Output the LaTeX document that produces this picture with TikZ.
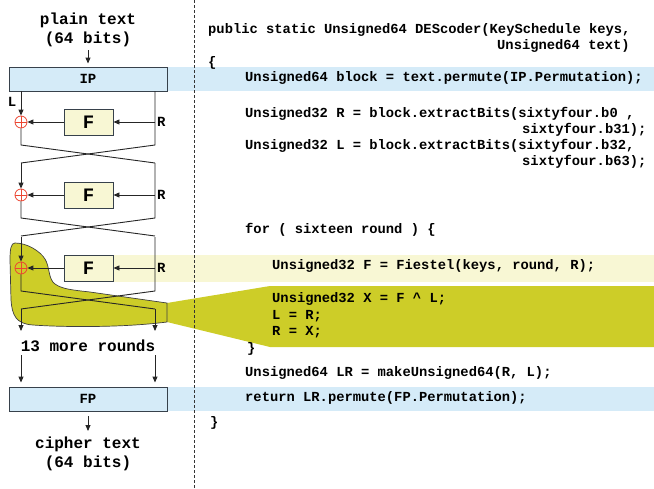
\documentclass[tikz,border=0pt]{standalone}
\usepackage{fontspec}
\setmainfont{Liberation Mono}
\usetikzlibrary{arrows.meta}
\definecolor{bandblue}{RGB}{213,235,248}
\definecolor{lyellow}{RGB}{248,247,212}
\definecolor{olivefill}{RGB}{205,205,40}
\definecolor{xred}{RGB}{235,70,50}
\definecolor{boxline}{RGB}{55,65,75}
\begin{document}
\begin{tikzpicture}[x=1pt,y=-1pt,
  arr/.style={-{Triangle[length=6pt,width=5pt]}},
  ln/.style={line width=0.9pt, draw=black!85},
  bluebox/.style={draw=boxline, fill=bandblue, line width=0.9pt, minimum width=158pt, minimum height=24pt, inner sep=0pt, font=\fontsize{14}{16}\selectfont\bfseries},
  fbox/.style={draw=boxline, fill=lyellow, line width=0.9pt, minimum width=49pt, minimum height=26pt, inner sep=0pt, font=\fontsize{19}{20}\selectfont\bfseries},
  xorn/.style={circle, draw=xred, line width=0.8pt, minimum size=12pt, inner sep=0pt,
    path picture={\draw[xred, line width=0.8pt] (path picture bounding box.north) -- (path picture bounding box.south) (path picture bounding box.west) -- (path picture bounding box.east);}},
  lbl/.style={inner sep=0pt, font=\fontsize{14}{16}\selectfont\bfseries},
  big/.style={inner sep=0pt, align=center, font=\fontsize{16}{19}\selectfont\bfseries},
  code/.style={anchor=mid west, inner sep=0pt, font=\fontsize{13.8}{16}\selectfont\bfseries},
  sep/.style={dash pattern=on 3pt off 2pt, line width=0.8pt, draw=black!80}
]
\useasboundingbox (0,0) rectangle (654,488);
% background bands
\fill[bandblue] (9,67) rectangle (654,91);
\fill[bandblue] (9,387) rectangle (654,411);
\fill[lyellow] (113,255) rectangle (654,282);
% olive highlight
\fill[olivefill] (167,303) -- (270,286) -- (654,286) -- (654,347) -- (270,347) -- (167,322) -- cycle;
\filldraw[fill=olivefill, draw=black!75, line width=0.7pt]
  (15,243) .. controls (27,243) and (40,251) .. (45,259)
  .. controls (50,267) and (48,279) .. (55,284)
  .. controls (62,289) and (72,290) .. (90,292)
  -- (167,303) -- (167,322)
  .. controls (120,328) and (60,327) .. (33,325)
  .. controls (16,324) and (12,315) .. (11,300)
  -- (10,260) .. controls (10,249) and (11,243) .. (15,243) -- cycle;

% top
\node[big] (pt) at (88,30) {plain text\\(64 bits)};
\node[bluebox] (IP) at (88,79) {IP};
\coordinate (pta) at (88,50);
\draw[ln, arr, shorten >=3pt] (pta) -- (IP.north);
\node[lbl] (L) at (12,102) {L};

% rounds
\foreach \i/\c/\t in {1/122/91, 2/195/163, 3/268/237}{
  \node[fbox] (F\i) at (88.5,\c) {F};
  \node[xorn] (xor\i) at (21,\c) {};
  \node[lbl, anchor=west] (R\i) at (157,\c) {R};
  \coordinate (lt\i) at (21,\t);
  \coordinate (rt\i) at (155,\t);
  \coordinate (lb\i) at (21,\c+23);
  \coordinate (rb\i) at (155,\c+23);
  \coordinate (lx\i) at (21,\c+41);
  \coordinate (rx\i) at (155,\c+41);
  \coordinate (rm\i) at (155,\c);
  \draw[ln, arr] (lt\i) -- (xor\i);
  \draw[ln] (xor\i) -- (lb\i) -- (rx\i);
  \draw[ln] (rt\i) -- (rb\i) -- (lx\i);
  \draw[ln, arr] (rm\i) -- (F\i);
  \draw[ln, arr] (F\i) -- (xor\i);
}
\coordinate (lo) at (21,331);
\coordinate (ro) at (155,331);
\draw[ln, arr] (lx3) -- (lo);
\draw[ln, arr] (rx3) -- (ro);
\node[big] (more) at (88,346) {13 more rounds};

% bottom
\node[bluebox] (FP) at (88,399) {FP};
\coordinate (lm) at (21,355);
\coordinate (rm) at (155,355);
\draw[ln, arr, shorten >=4pt] (lm) -- (lm |- FP.north);
\draw[ln, arr, shorten >=4pt] (rm) -- (rm |- FP.north);
\node[big] (ct) at (88,453.5) {cipher text\\(64 bits)};
\coordinate (cta) at (88,431);
\draw[ln, arr, shorten <=5pt] (FP.south) -- (cta);

% separator
\coordinate (st) at (194,0);
\coordinate (sb) at (194,488);
\draw[sep] (st) -- (sb);

% code
\node[code] (c1) at (208,31) {public static Unsigned64 DEScoder(KeySchedule keys,};
\node[code] (c2) at (497,47) {Unsigned64 text)};
\node[code] (c3) at (208,64) {\{};
\node[code] (c4) at (245,79) {Unsigned64 block = text.permute(IP.Permutation);};
\node[code] (c5) at (245,115) {Unsigned32 R = block.extractBits(sixtyfour.b0 ,};
\node[code] (c6) at (522,131) {sixtyfour.b31);};
\node[code] (c7) at (245,147) {Unsigned32 L = block.extractBits(sixtyfour.b32,};
\node[code] (c8) at (522,163) {sixtyfour.b63);};
\node[code] (c9) at (245,231) {for ( sixteen round ) \{};
\node[code] (c10) at (272,267) {Unsigned32 F = Fiestel(keys, round, R);};
\node[code] (c11) at (272,300) {Unsigned32 X = F \char`\^{} L;};
\node[code] (c12) at (272,317) {L = R;};
\node[code] (c13) at (272,333) {R = X;};
\node[code] (c14) at (247,350) {\}};
\node[code] (c15) at (245,374) {Unsigned64 LR = makeUnsigned64(R, L);};
\node[code] (c16) at (245,399) {return LR.permute(FP.Permutation);};
\node[code] (c17) at (210,424) {\}};
\end{tikzpicture}
\end{document}
